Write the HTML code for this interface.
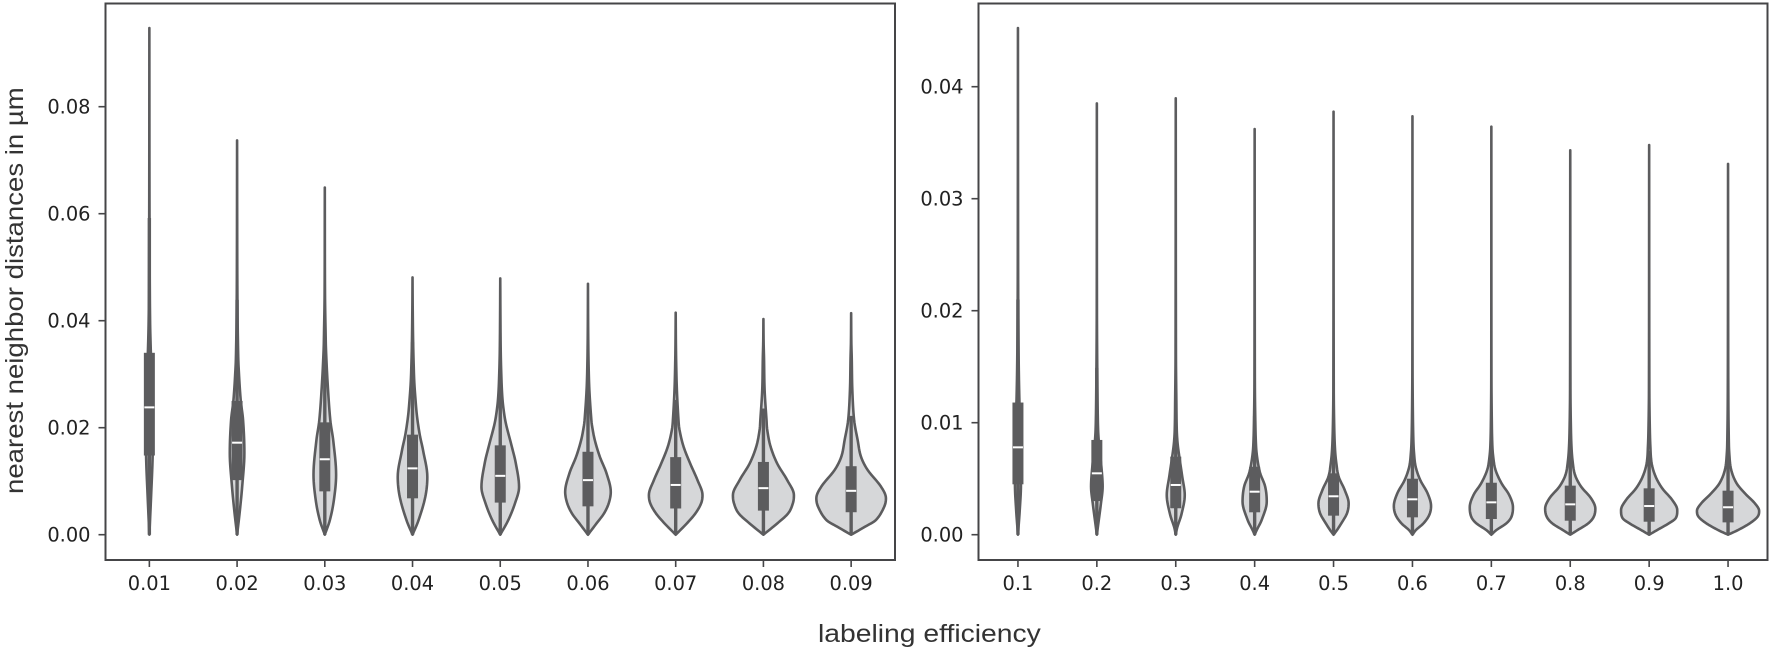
<!DOCTYPE html>
<html lang="en">
<head>
<meta charset="utf-8">
<title>Nearest neighbor distances by labeling efficiency</title>
<style>
  html, body { margin: 0; padding: 0; background: #fff; }
  body { width: 1772px; height: 652px; overflow: hidden; }
  svg { display: block; filter: blur(0.35px); }
  .tick { font-family: "DejaVu Sans", "Liberation Sans", sans-serif; font-size: 19.4px; fill: #222222; }
  .title { font-family: "Liberation Sans", sans-serif; font-size: 25px; fill: #333333; }
</style>
</head>
<body>
<svg id="chart" width="1772" height="652" viewBox="0 0 1772 652" xmlns="http://www.w3.org/2000/svg">
  <rect x="0" y="0" width="1772" height="652" fill="#ffffff"/>
  <g id="panel-left"></g>
  <g id="panel-right"></g>
  <text id="y-title" class="title" x="0" y="0">nearest neighbor distances in µm</text>
  <text id="x-title" class="title" x="0" y="0">labeling efficiency</text>
</svg>
<script>
/* ---------- left panel data ---------- */
const leftCategories = ['0.01','0.02','0.03','0.04','0.05','0.06','0.07','0.08','0.09'];
const leftTicks = [0, 0.02, 0.04, 0.06, 0.08];
const leftTickLabels = ['0.00','0.02','0.04','0.06','0.08'];
const leftQ1 = [.0148,.0102,.0081,.0068,.0060,.0053,.0049,.0045,.0042];
const leftMedian = [.0238,.0172,.0141,.0124,.0110,.0102,.0093,.0087,.0082];
const leftQ3 = [.0340,.0250,.0210,.0187,.0167,.0155,.0145,.0136,.0128];
const leftWhiskerTop = [.0592,.0439,.0372,.0360,.0327,.0308,.0252,.0236,.0222];
const leftMax = [.0947,.0737,.0649,.0481,.0479,.0469,.0415,.0403,.0414];
const leftProfileValues = [
  [.0075,.0149,.0238,.034,.04,.05,.066],
  [.004,.009,.0153,.0214,.0252,.0314,.0345,.0407,.05],
  [.00275,.0065,.0112,.0175,.0214,.0284,.0345,.0377,.045],
  [.00275,.0071,.0108,.0158,.0186,.0221,.0252,.0284,.0314,.036,.042],
  [.00275,.0059,.0089,.0134,.0168,.0209,.0239,.0265,.0302,.034,.04],
  [.0021,.004,.0059,.008,.0115,.0146,.0177,.0202,.0214,.027,.032,.038],
  [.0021,.004,.0059,.0074,.0102,.0133,.0165,.0196,.0214,.027,.032,.036],
  [.0021,.004,.0059,.0074,.0102,.0133,.0165,.0196,.0214,.027,.033,.036],
  [.0015,.00275,.0052,.0068,.009,.0121,.0146,.0177,.0214,.027,.033,.036]
];
const leftProfileDensity = [
  [1.8,3.3,3.5,1.5,.7,.3,.1],
  [2.5,5.1,7.3,6,3.6,1.5,1,.5,.2],
  [5.1,9.1,11.3,8.5,5.5,2.8,1.2,.8,.2],
  [6.1,12.8,14.8,10.5,7.3,4.5,3,1.8,1.2,.6,.2],
  [8.1,14.8,18.8,15.5,11.1,5.5,3,1.8,1,.5,.2],
  [8.5,16.1,20.8,22.8,18.5,11.8,6.8,4.2,3.4,1.4,.6,.2],
  [11.1,19.8,25.5,26.8,21.8,14.5,7.8,3.8,2.8,1.2,.5,.2],
  [13.8,24.8,29.5,30.5,23.8,13.8,7.1,3.8,3.1,1.2,.6,.2],
  [14,24.8,33,34.8,29.8,16.5,9.8,6.5,3,1.2,.6,.2]
];

/* ---------- right panel data ---------- */
const rightCategories = ['0.1','0.2','0.3','0.4','0.5','0.6','0.7','0.8','0.9','1.0'];
const rightTicks = [0, 0.01, 0.02, 0.03, 0.04];
const rightTickLabels = ['0.00','0.01','0.02','0.03','0.04'];
const rightQ1 = [.0045,.0030,.00236,.0020,.0017,.00155,.0014,.00125,.00116,.0011];
const rightMedian = [.0078,.00548,.00444,.00384,.00343,.00316,.00289,.00271,.00256,.00245];
const rightQ3 = [.0118,.00846,.00697,.00607,.00548,.0050,.00464,.00438,.00414,.00393];
const rightWhiskerTop = [.0210,.0149,.0121,.0106,.0095,.0089,.0083,.0078,.0075,.0072];
const rightMax = [.04524,.03851,.03896,.03622,.03777,.03736,.03643,.03432,.03479,.0331];
const rightProfileValues = [
  [.0022,.0045,.0078,.0118,.015,.02,.03],
  [.00102,.0028,.0043,.0058,.0085,.0102,.015,.02],
  [.00065,.00185,.00354,.00518,.007,.0082,.0094,.012,.016],
  [.00042,.00133,.00295,.0043,.0055,.0067,.0079,.0105,.014],
  [.00042,.00102,.00192,.0028,.004,.00518,.00637,.00757,.0095,.013],
  [.00042,.00102,.00176,.00256,.0037,.00488,.00607,.00726,.00845,.011,.015],
  [.00042,.00102,.0016,.00245,.00355,.0046,.0058,.007,.00816,.0105,.014],
  [.00042,.00102,.0016,.00232,.00325,.0043,.00533,.00653,.0079,.0098,.013],
  [.00042,.00102,.00147,.0022,.0031,.00414,.00518,.00637,.0079,.0098,.013],
  [.00042,.00102,.0016,.00212,.0028,.0037,.0046,.0058,.0073,.00875,.012,.02]
];
const rightProfileDensity = [
  [1.8,3,3,1.5,.8,.3,.1],
  [1.5,4.1,5.8,4.8,1.8,1,.4,.1],
  [1.5,5.8,9,6.5,3.5,1.8,1,.6,.2],
  [2.1,7.1,12.1,10.5,5.5,2.8,1.4,.6,.2],
  [3.5,7.8,13.5,15.1,11.1,5.1,2.8,1.5,.7,.2],
  [3.5,11.1,16.8,18.6,15.1,7.8,3.2,1.6,.9,.4,.1],
  [5.1,15.1,20.1,21.6,17.8,10.1,4.1,1.8,.9,.4,.1],
  [7.5,18.1,23.5,25.1,20.8,10.8,4.8,2.4,1.2,.6,.2],
  [8.1,19.8,26.5,28.1,23.1,13.1,6.5,2.5,1.2,.6,.2],
  [10.1,21.8,29.5,31.1,26.8,16.8,8.5,3.1,1.2,.7,.3,.1]
];

/* ---------- drawing ---------- */
const NS = 'http://www.w3.org/2000/svg';
const INK = '#5c5c5e';
const FILL = '#d6d7d9';
const SPINE = '#454547';

function make(parent, tag, attrs) {
  const el = document.createElementNS(NS, tag);
  for (const k in attrs) el.setAttribute(k, attrs[k]);
  parent.appendChild(el);
  return el;
}

/* Monotone cubic sampling of the density profile, so the outline stays smooth. */
function smoothProfile(vs, ds) {
  const n = vs.length, sec = [], m = [];
  for (let i = 0; i < n - 1; i++) sec.push((ds[i + 1] - ds[i]) / (vs[i + 1] - vs[i]));
  for (let i = 0; i < n; i++) {
    if (i === 0) m.push(sec[0]);
    else if (i === n - 1) m.push(sec[n - 2]);
    else if (sec[i - 1] * sec[i] <= 0) m.push(0);
    else m.push((ds[i + 1] - ds[i - 1]) / (vs[i + 1] - vs[i - 1]));
  }
  const out = [];
  for (let i = 0; i < n - 1; i++) {
    const h = vs[i + 1] - vs[i];
    for (let s = 0; s < 8; s++) {
      const t = s / 8, t2 = t * t, t3 = t2 * t;
      const d = (2 * t3 - 3 * t2 + 1) * ds[i] + (t3 - 2 * t2 + t) * h * m[i]
              + (-2 * t3 + 3 * t2) * ds[i + 1] + (t3 - t2) * h * m[i + 1];
      out.push([vs[i] + t * h, Math.max(0, d)]);
    }
  }
  out.push([vs[n - 1], ds[n - 1]]);
  return out;
}

function drawPanel(cfg) {
  const g = document.getElementById(cfg.id);
  const bandwidth = (cfg.right - cfg.left) / cfg.categories.length;
  const xScale = i => cfg.left + bandwidth * (i + 0.5);
  const yScale = v => cfg.zeroY - v * cfg.pxPerUnit;
  const widthScale = d => d * 1;

  const bg = make(g, 'rect', { x: cfg.left, y: cfg.top, width: cfg.right - cfg.left, height: cfg.bottom - cfg.top, fill: '#fff' });
  
  

  cfg.categories.forEach((cat, i) => {
    const cx = xScale(i);
    const vg = make(g, 'g', {});
    
    

    const vals = [0].concat(cfg.profileValues[i], [cfg.max[i]]);
    const dens = [0].concat(cfg.profileDensity[i], [0]);
    const pts = smoothProfile(vals, dens);
    const leftSide = pts.map(p => (cx - widthScale(p[1])).toFixed(2) + ',' + yScale(p[0]).toFixed(2));
    const rightSide = pts.slice().reverse().map(p => (cx + widthScale(p[1])).toFixed(2) + ',' + yScale(p[0]).toFixed(2));
    const body = make(vg, 'path', {
      d: 'M' + leftSide.concat(rightSide).join('L') + 'Z',
      fill: FILL, stroke: INK, 'stroke-width': 2.6, 'stroke-linejoin': 'round'
    });
    
    

    const whisker = make(vg, 'line', {
      x1: cx, x2: cx, y1: yScale(0), y2: yScale(cfg.whiskerTop[i]),
      stroke: INK, 'stroke-width': 3.4
    });
    
    

    const box = make(vg, 'rect', {
      x: cx - 5.5, width: 11, y: yScale(cfg.q3[i]),
      height: yScale(cfg.q1[i]) - yScale(cfg.q3[i]), fill: INK
    });
    
    

    const med = make(vg, 'line', {
      x1: cx - 5, x2: cx + 5, y1: yScale(cfg.median[i]), y2: yScale(cfg.median[i]),
      stroke: '#ffffff', 'stroke-width': 2
    });
    
    

    const tick = make(g, 'line', { x1: cx, x2: cx, y1: cfg.bottom, y2: cfg.bottom + 7, stroke: SPINE, 'stroke-width': 1.6 });
    
    

    const lab = make(g, 'text', { x: cx, y: 590, 'text-anchor': 'middle', class: 'tick' });
    lab.textContent = cat;
    
    
  });

  cfg.ticks.forEach((t, i) => {
    const y = yScale(t);
    const tick = make(g, 'line', { x1: cfg.left - 7, x2: cfg.left, y1: y, y2: y, stroke: SPINE, 'stroke-width': 1.6 });
    
    

    const lab = make(g, 'text', { x: cfg.left - 15, y: y + 7, 'text-anchor': 'end', class: 'tick' });
    lab.textContent = cfg.tickLabels[i];
    
    
  });

  const frame = make(g, 'rect', {
    x: cfg.left, y: cfg.top, width: cfg.right - cfg.left, height: cfg.bottom - cfg.top,
    fill: 'none', stroke: SPINE, 'stroke-width': 2
  });
  
  
}

drawPanel({
  id: 'panel-left', left: 105.5, right: 895, top: 3.5, bottom: 560, zeroY: 534.7, pxPerUnit: 5350,
  categories: leftCategories, ticks: leftTicks, tickLabels: leftTickLabels,
  q1: leftQ1, median: leftMedian, q3: leftQ3, whiskerTop: leftWhiskerTop, max: leftMax,
  profileValues: leftProfileValues, profileDensity: leftProfileDensity
});
drawPanel({
  id: 'panel-right', left: 978.5, right: 1767.5, top: 3.5, bottom: 560, zeroY: 534.7, pxPerUnit: 11200,
  categories: rightCategories, ticks: rightTicks, tickLabels: rightTickLabels,
  q1: rightQ1, median: rightMedian, q3: rightQ3, whiskerTop: rightWhiskerTop, max: rightMax,
  profileValues: rightProfileValues, profileDensity: rightProfileDensity
});

/* Fit the two axis titles to the spans they occupy in the figure. */
const yTitle = document.getElementById('y-title');
const xTitle = document.getElementById('x-title');
const yFit = 407 / yTitle.getComputedTextLength();
const xFit = 223 / xTitle.getComputedTextLength();
yTitle.setAttribute('transform', 'translate(23,494) rotate(-90) scale(' + yFit + ',1)');
xTitle.setAttribute('transform', 'translate(818,642) scale(' + xFit + ',1)');
</script>
</body>
</html>
